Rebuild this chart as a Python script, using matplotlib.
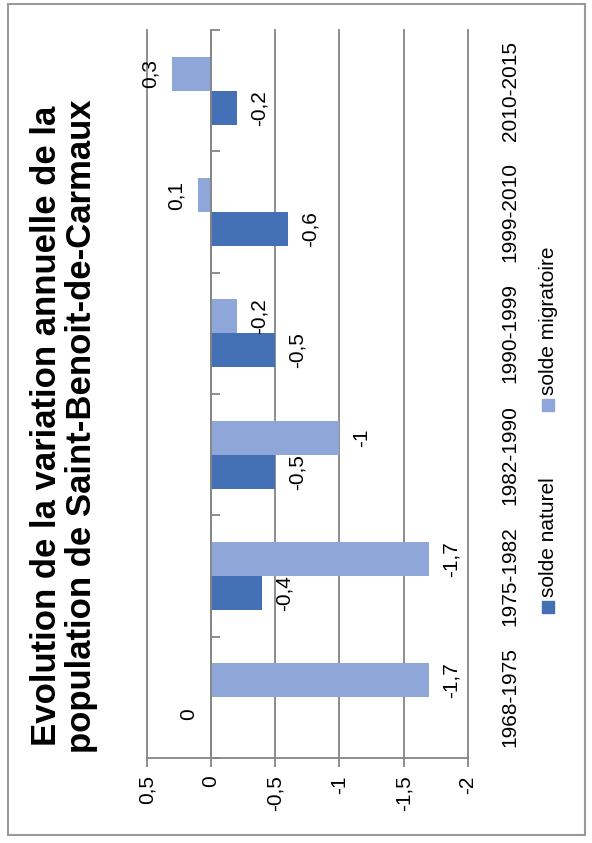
import matplotlib
matplotlib.use('Agg')
import matplotlib.pyplot as plt
from matplotlib.patches import Rectangle

# donnees du graphique
periodes = ['1968-1975', '1975-1982', '1982-1990', '1990-1999', '1999-2010', '2010-2015']
solde_naturel = [0, -0.4, -0.5, -0.5, -0.6, -0.2]
solde_migratoire = [-1.7, -1.7, -1, -0.2, 0.1, 0.3]
valeurs_axe = [0.5, 0, -0.5, -1, -1.5, -2]
etiquettes_axe = ['0,5', '0', '-0,5', '-1', '-1,5', '-2']
series = ['solde naturel', 'solde migratoire']
titre = 'Evolution de la variation annuelle de la\npopulation de Saint-Benoit-de-Carmaux'

plt.rcParams['font.family'] = ['Liberation Sans', 'DejaVu Sans']

fonce = '#4471b5'
clair = '#8fa7d8'
gris = '#858585'
taille = 15

W, H = 592, 843
fig = plt.figure(figsize=(W / 100, H / 100), dpi=100)
ax = fig.add_axes([146.7 / W, 1 - 758 / H, (468 - 146.7) / W, (758 - 30) / H])

pos = list(range(len(periodes)))
h = 0.28
y_nat = [p - h / 2 for p in pos]
y_mig = [p + h / 2 for p in pos]
ax.barh(y_nat, solde_naturel, height=h, color=fonce, zorder=2)
ax.barh(y_mig, solde_migratoire, height=h, color=clair, zorder=2)

ax.set_xlim(valeurs_axe[0], valeurs_axe[-1])
ax.set_ylim(-0.5, len(periodes) - 0.5)

# lignes de quadrillage (celles des bords ne doivent pas etre coupees)
for v in valeurs_axe:
    ax.axvline(v, color=gris, lw=1.3, zorder=1, clip_on=False)

ax.set_xticks(valeurs_axe, etiquettes_axe, rotation=90)
ax.tick_params(axis='x', direction='out', length=6.5, width=1.3, color=gris,
               pad=6, labelsize=taille)

# axe des categories place sur la valeur 0
ax.spines['left'].set_position(('data', 0))
ax.spines['left'].set_color(gris)
ax.spines['left'].set_linewidth(1.3)
ax.spines['bottom'].set_color(gris)
ax.spines['bottom'].set_linewidth(1.3)
ax.spines['top'].set_visible(False)
ax.spines['right'].set_visible(False)

ax.set_yticks(pos, periodes, rotation=90, va='center')
ax.set_yticks([p - 0.5 for p in pos] + [len(pos) - 0.5], minor=True)
ax.tick_params(axis='y', which='major', left=False, right=False,
               labelleft=False, labelright=True, pad=20, labelsize=taille)
ax.tick_params(axis='y', which='minor', left=True, right=False, direction='in',
               length=6.5, width=1.3, color=gris)


def etiqueter(ys, valeurs):
    for y, v in zip(ys, valeurs):
        txt = ('%g' % v).replace('.', ',')
        if v >= 0:
            dx, ha = -9, 'right'
        else:
            dx, ha = 9, 'left'
        ax.annotate(txt, (v, y), xytext=(dx, 0), textcoords='offset points',
                    rotation=90, ha=ha, va='center', fontsize=taille)


etiqueter(y_nat, solde_naturel)
etiqueter(y_mig, solde_migratoire)

# titre
fig.text(64 / W, 1 - 426 / H, titre, rotation=90, ha='center', va='center',
         multialignment='center', fontsize=25, fontweight='bold', linespacing=1.08)

# legende (tournee comme le reste)
for nom, couleur, yc in [(series[0], fonce, 607), (series[1], clair, 405)]:
    fig.add_artist(Rectangle(((548 - 6) / W, 1 - (yc + 6) / H), 12 / W, 12 / H,
                             transform=fig.transFigure, color=couleur))
    fig.text(549 / W, 1 - (yc - 10) / H, nom, rotation=90, rotation_mode='anchor',
             ha='left', va='center', fontsize=taille)

# cadre exterieur
fig.add_artist(Rectangle((8 / W, 1 - 835 / H), (585 - 8) / W, (835 - 4) / H,
                         transform=fig.transFigure, fill=False,
                         edgecolor='#9a9a9a', lw=1.5))

fig.savefig('out.png', dpi=100)
